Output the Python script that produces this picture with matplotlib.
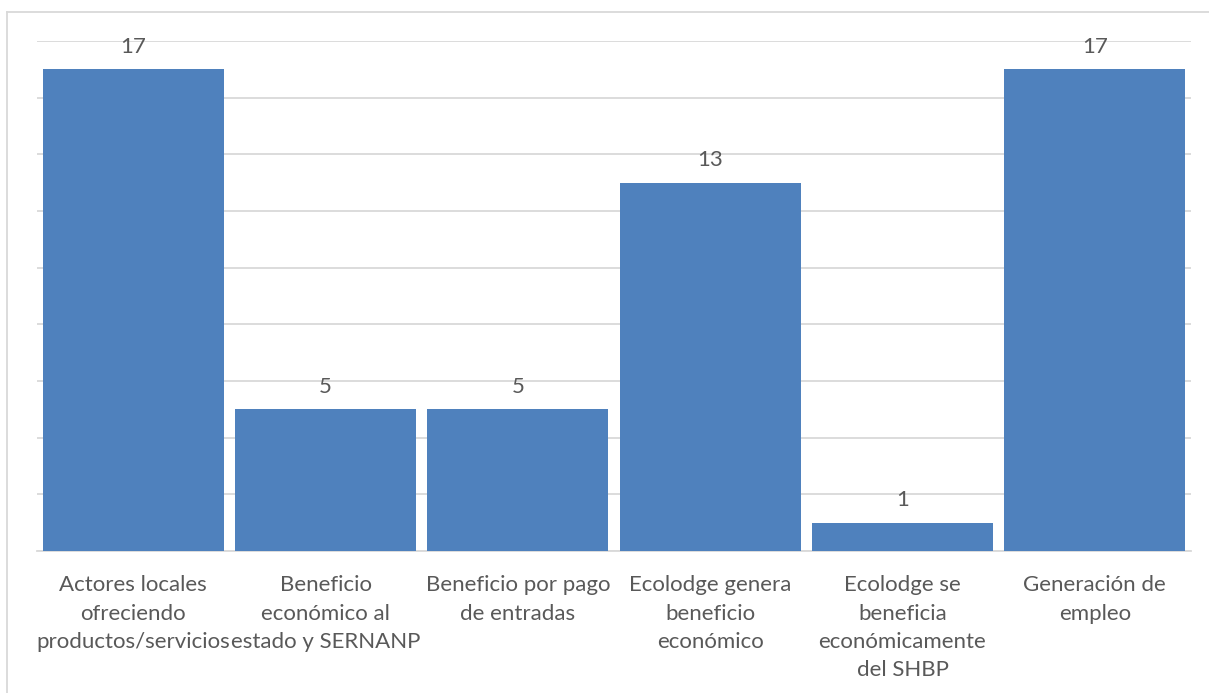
import matplotlib.pyplot as plt
from matplotlib.lines import Line2D
import numpy as np

categories = [
    "Actores locales\nofreciendo\nproductos/servicios",
    "Beneficio\neconómico al\nestado y SERNANP",
    "Beneficio por pago\nde entradas",
    "Ecolodge genera\nbeneficio\neconómico",
    "Ecolodge se\nbeneficia\neconómicamente\ndel SHBP",
    "Generación de\nempleo",
]
values = [17, 5, 5, 13, 1, 17]

plt.rcParams['font.family'] = ['Lato', 'DejaVu Sans']
text_color = '#595959'

fig = plt.figure(figsize=(12.09, 6.93), dpi=100)
ax = fig.add_axes([37 / 1209, 1 - 551 / 693, (1191 - 37) / 1209, (551 - 41) / 693])

x = np.arange(len(categories))
bars = ax.bar(x, values, width=0.94, color='#4F81BD', zorder=3)
for b, v in zip(bars, values):
    ax.annotate(str(v), (b.get_x() + b.get_width() / 2, v), xytext=(0, 16),
                textcoords='offset points', ha='center', va='center',
                fontsize=16, color=text_color)

ax.set_xlim(-0.5, len(categories) - 0.5)
ax.set_ylim(0, 18)
ax.set_yticks(np.arange(0, 19, 2))
ax.yaxis.grid(True, color='#D9D9D9', linewidth=1.3, zorder=0)
ax.tick_params(axis='y', left=False, labelleft=False)
ax.set_xticks(x)
ax.set_xticklabels(categories, fontsize=16, color=text_color, linespacing=1.52)
ax.tick_params(axis='x', length=0, pad=17.5)
for s in ['top', 'right', 'left']:
    ax.spines[s].set_visible(False)
ax.spines['bottom'].set_color('#D9D9D9')
ax.spines['bottom'].set_linewidth(1.3)

# outer chart border
fig.add_artist(Line2D([7 / 1209, 1.01], [1 - 12 / 693] * 2, color='#D9D9D9', lw=1.3))
fig.add_artist(Line2D([7 / 1209] * 2, [1 - 12 / 693, -0.01], color='#D9D9D9', lw=1.3))

fig.savefig('out.png', dpi=100)
